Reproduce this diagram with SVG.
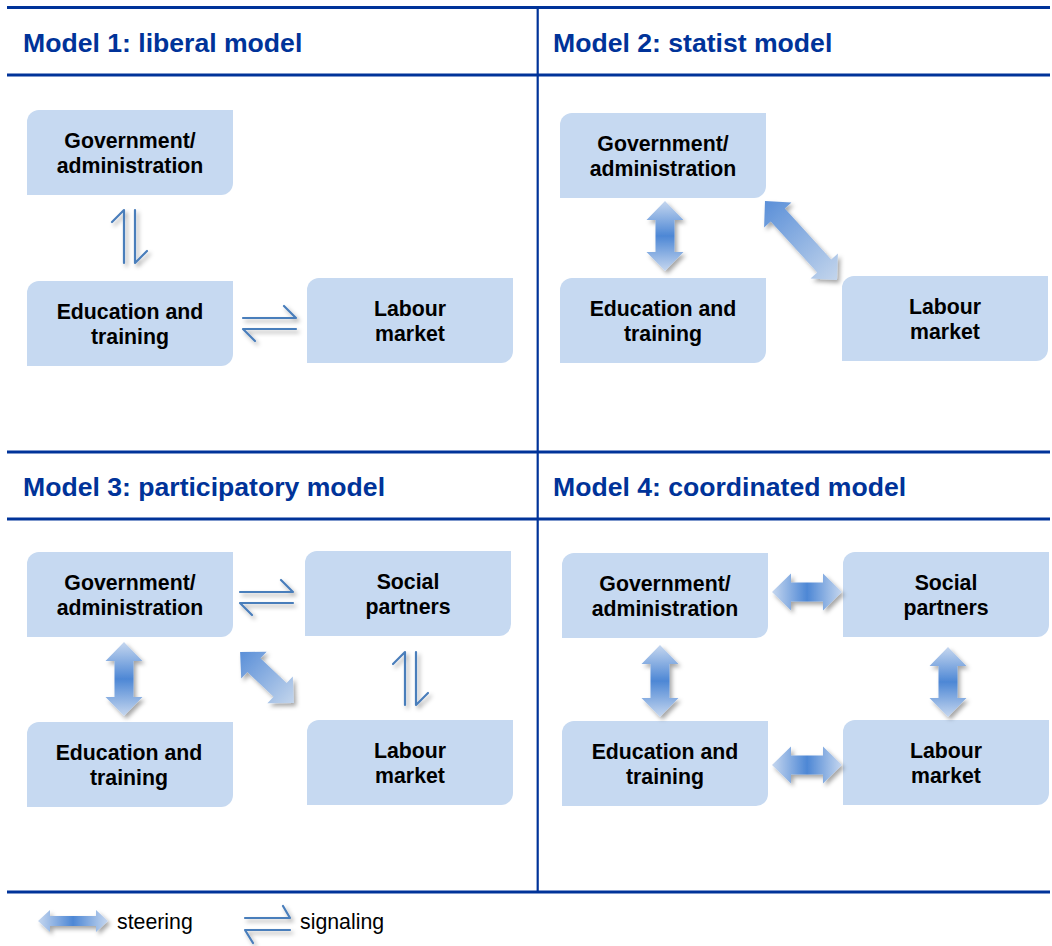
<svg xmlns="http://www.w3.org/2000/svg" xmlns:xlink="http://www.w3.org/1999/xlink" width="1052" height="946" viewBox="0 0 1052 946">
<style>
.rule{stroke:#003399;stroke-width:3;fill:none}
.vrule{stroke:#003399;stroke-width:2.2;fill:none}
.title{font-family:"Liberation Sans",Arial,sans-serif;font-weight:bold;font-size:26.6px;fill:#003399}
.box{fill:#c6d9f1}
.lbl{font-family:"Liberation Sans",Arial,sans-serif;font-weight:bold;font-size:21.3px;fill:#000;text-anchor:middle}
.leg{font-family:"Liberation Sans",Arial,sans-serif;font-size:21.3px;fill:#000}
.sig{fill:none;stroke:#4a7ebb;stroke-width:2.2;stroke-linecap:round;stroke-linejoin:round}
.steer{fill:url(#gSym)}
.steerD{fill:url(#gDiag)}
</style>
<defs>
<linearGradient id="gSym" x1="0" y1="0" x2="1" y2="0">
<stop offset="0" stop-color="#c6d7ef"/>
<stop offset="0.5" stop-color="#4d87d5"/>
<stop offset="1" stop-color="#c6d7ef"/>
</linearGradient>
<linearGradient id="gDiag" x1="0" y1="0" x2="1" y2="0">
<stop offset="0" stop-color="#5a8fd8"/>
<stop offset="1" stop-color="#c3d5ec"/>
</linearGradient>
<filter id="sh" x="-30%" y="-30%" width="160%" height="160%">
<feDropShadow dx="2.5" dy="3" stdDeviation="2" flood-color="#000" flood-opacity="0.35"/>
</filter>
<path id="box" d="M12,0 H206 V73 A12,12 0 0 1 194,85 H0 V12 A12,12 0 0 1 12,0 Z"/>
<path id="sig" d="M0,0 H53 L41,-12 M53,11 H0 L12,23"/>
<path id="st70" d="M-35,0 L-16,-18.5 L-16,-9.5 L16,-9.5 L16,-18.5 L35,0 L16,18.5 L16,9.5 L-16,9.5 L-16,18.5 Z"/>
<path id="st74" d="M-37,0 L-18,-18.5 L-18,-9.5 L18,-9.5 L18,-18.5 L37,0 L18,18.5 L18,9.5 L-18,9.5 L-18,18.5 Z"/>
<path id="st72" d="M-36,0 L-17,-18.5 L-17,-9.5 L17,-9.5 L17,-18.5 L36,0 L17,18.5 L17,9.5 L-17,9.5 L-17,18.5 Z"/>
</defs>

<g id="frame">
<line class="rule" x1="7" y1="7.5" x2="1050" y2="7.5"/>
<line class="rule" x1="7" y1="75" x2="1050" y2="75"/>
<line class="rule" x1="7" y1="452" x2="1050" y2="452"/>
<line class="rule" x1="7" y1="519" x2="1050" y2="519"/>
<line class="rule" x1="7" y1="892" x2="1050" y2="892"/>
<line class="vrule" x1="537.7" y1="6" x2="537.7" y2="892"/>
<text class="title" x="23" y="52">Model 1: liberal model</text>
<text class="title" x="553" y="52">Model 2: statist model</text>
<text class="title" x="23" y="496">Model 3: participatory model</text>
<text class="title" x="553" y="496">Model 4: coordinated model</text>
</g>

<!-- Model 1 -->
<g id="m1-gov"><use href="#box" class="box" transform="translate(27,110)"/><text class="lbl" x="130" y="148">Government/</text><text class="lbl" x="130" y="173">administration</text></g>
<g id="m1-edu"><use href="#box" class="box" transform="translate(27,281)"/><text class="lbl" x="130" y="318.5">Education and</text><text class="lbl" x="130" y="343.5">training</text></g>
<g id="m1-lab"><use href="#box" class="box" transform="translate(307,278)"/><text class="lbl" x="410" y="315.5">Labour</text><text class="lbl" x="410" y="340.5">market</text></g>

<!-- Model 2 -->
<g id="m2-gov"><use href="#box" class="box" transform="translate(560,113)"/><text class="lbl" x="663" y="150.5">Government/</text><text class="lbl" x="663" y="175.5">administration</text></g>
<g id="m2-edu"><use href="#box" class="box" transform="translate(560,278)"/><text class="lbl" x="663" y="315.5">Education and</text><text class="lbl" x="663" y="340.5">training</text></g>
<g id="m2-lab"><use href="#box" class="box" transform="translate(842,276)"/><text class="lbl" x="945" y="313.5">Labour</text><text class="lbl" x="945" y="338.5">market</text></g>

<!-- Model 3 -->
<g id="m3-gov"><use href="#box" class="box" transform="translate(27,552)"/><text class="lbl" x="130" y="589.5">Government/</text><text class="lbl" x="130" y="614.5">administration</text></g>
<g id="m3-soc"><use href="#box" class="box" transform="translate(305,551)"/><text class="lbl" x="408" y="588.5">Social</text><text class="lbl" x="408" y="613.5">partners</text></g>
<g id="m3-edu"><use href="#box" class="box" transform="translate(27,722)"/><text class="lbl" x="129" y="759.5">Education and</text><text class="lbl" x="129" y="784.5">training</text></g>
<g id="m3-lab"><use href="#box" class="box" transform="translate(307,720)"/><text class="lbl" x="410" y="757.5">Labour</text><text class="lbl" x="410" y="782.5">market</text></g>

<!-- Model 4 -->
<g id="m4-gov"><use href="#box" class="box" transform="translate(562,553)"/><text class="lbl" x="665" y="590.5">Government/</text><text class="lbl" x="665" y="615.5">administration</text></g>
<g id="m4-soc"><use href="#box" class="box" transform="translate(843,552)"/><text class="lbl" x="946" y="589.5">Social</text><text class="lbl" x="946" y="614.5">partners</text></g>
<g id="m4-edu"><use href="#box" class="box" transform="translate(562,721)"/><text class="lbl" x="665" y="758.5">Education and</text><text class="lbl" x="665" y="783.5">training</text></g>
<g id="m4-lab"><use href="#box" class="box" transform="translate(843,720)"/><text class="lbl" x="946" y="757.5">Labour</text><text class="lbl" x="946" y="782.5">market</text></g>

<g id="connectors">
<!-- Model 1 signaling -->
<g filter="url(#sh)"><use href="#sig" class="sig" transform="translate(124,263) rotate(-90)"/></g>
<g filter="url(#sh)"><use href="#sig" class="sig" transform="translate(243,318)"/></g>
<!-- Model 2 steering -->
<g filter="url(#sh)"><use href="#st70" class="steer" transform="translate(665,236) rotate(90)"/></g>
<g filter="url(#sh)"><path class="steerD" transform="translate(801,240.5) rotate(47.7)" d="M-53.5,0 L-34.5,-18.5 L-34.5,-9.5 L34.5,-9.5 L34.5,-18.5 L53.5,0 L34.5,18.5 L34.5,9.5 L-34.5,9.5 L-34.5,18.5 Z"/></g>
<!-- Model 3 -->
<g filter="url(#sh)"><use href="#sig" class="sig" transform="translate(240,592)"/></g>
<g filter="url(#sh)"><use href="#sig" class="sig" transform="translate(405,705) rotate(-90)"/></g>
<g filter="url(#sh)"><use href="#st74" class="steer" transform="translate(124,679) rotate(90)"/></g>
<g filter="url(#sh)"><use href="#st74" class="steerD" transform="translate(267,677.5) rotate(43.4)"/></g>
<!-- Model 4 -->
<g filter="url(#sh)"><use href="#st70" class="steer" transform="translate(807,592)"/></g>
<g filter="url(#sh)"><use href="#st70" class="steer" transform="translate(807,765)"/></g>
<g filter="url(#sh)"><use href="#st72" class="steer" transform="translate(660,681) rotate(90)"/></g>
<g filter="url(#sh)"><use href="#st70" class="steer" transform="translate(948,682) rotate(90)"/></g>
</g>

<g id="legend">
<g filter="url(#sh)"><path class="steer" transform="translate(73,921)" d="M-35,0 L-23,-11 L-23,-5 L23,-5 L23,-11 L35,0 L23,11 L23,5 L-23,5 L-23,11 Z"/></g>
<text class="leg" x="117" y="929">steering</text>
<g filter="url(#sh)"><path class="sig" transform="translate(245,918)" d="M0,0 H45 L38,-12 M45,12 H0 L8,25"/></g>
<text class="leg" x="300" y="929">signaling</text>
</g>
</svg>
